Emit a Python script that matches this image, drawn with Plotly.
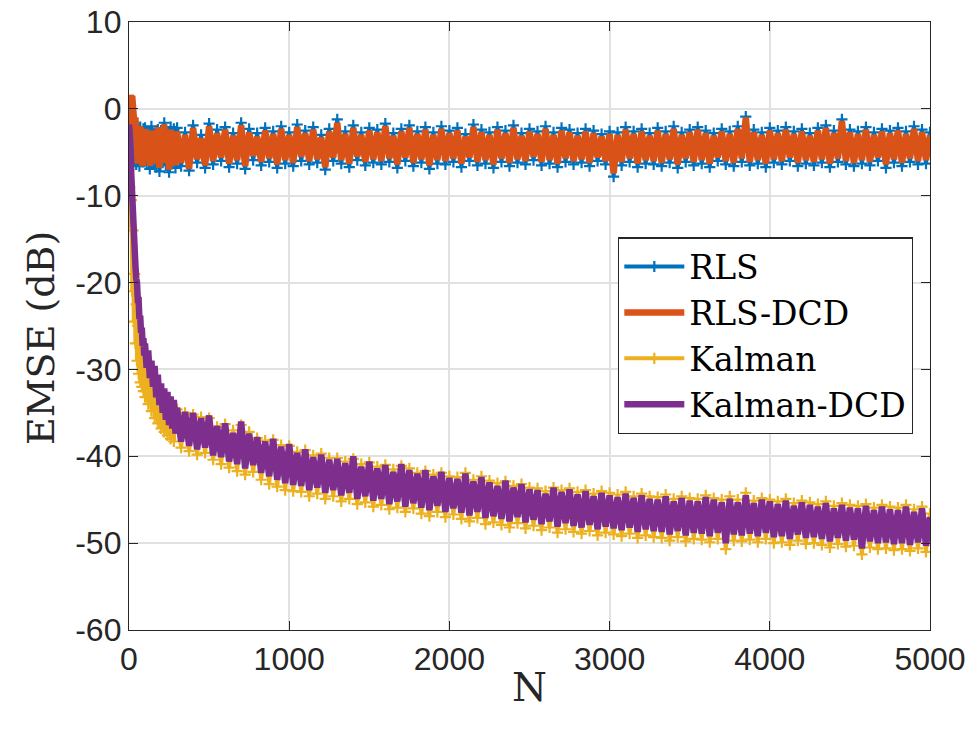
import plotly.graph_objects as go

# sample index N (non-uniform sampling of the 5000-sample curves)
n_early = list(range(0, 100, 5))
n_mid = list(range(100, 300, 10))
n_late = list(range(300, 5001, 25))
N = n_early + n_mid + n_late

# ---------------- RLS (blue) ----------------
rls_early = [-2.0,-5.5,-1.8,-5.8,-2.5,-6.2,-2.0,-5.6,-2.8,-6.4,-2.2,-5.9,-2.6,-6.6,-2.1,-5.7,-2.9,-6.1,-2.3,-6.0]
rls_mid = [-2.2,-6.3,-2.6,-6.9,-2.0,-6.0,-2.8,-6.7,-2.4,-7.2,-2.5,-6.2,-1.6,-6.5,-2.7,-7.3,-2.1,-6.3,-2.3,-6.8]
rls_late = [
    -2.2,-6.6,-2.7,-7.1,-1.9,-6.2,-3.0,-6.8,-1.7,-6.4,
    -2.4,-6.0,-2.1,-6.7,-2.8,-6.3,-1.6,-6.9,-2.3,-5.9,
    -2.8,-6.5,-2.2,-6.1,-2.6,-6.8,-2.0,-6.3,-2.7,-6.6,
    -1.8,-6.0,-2.5,-6.4,-2.1,-6.2,-3.0,-7.0,-2.3,-6.0,
    -1.2,-6.3,-2.6,-6.7,-1.9,-5.9,-2.7,-6.5,-2.2,-6.2,
    -2.4,-6.4,-1.7,-6.1,-2.8,-6.8,-2.3,-6.0,-1.9,-6.6,
    -2.6,-6.2,-2.1,-6.9,-2.7,-6.3,-2.0,-6.4,-2.5,-6.1,
    -2.2,-6.7,-2.9,-6.0,-1.8,-6.5,-2.4,-6.3,-2.7,-6.8,
    -2.1,-6.1,-2.5,-6.6,-1.9,-6.2,-2.8,-6.4,-2.3,-5.9,
    -2.6,-6.5,-2.0,-6.3,-2.7,-6.7,-2.2,-6.1,-2.4,-6.4,
    -2.8,-6.2,-2.3,-6.6,-2.5,-6.0,-2.9,-6.4,-2.6,-7.8,
    -2.7,-6.5,-2.1,-6.1,-2.6,-6.7,-2.3,-6.3,-2.8,-6.4,
    -2.2,-6.6,-2.6,-6.2,-2.0,-6.8,-2.7,-6.1,-2.4,-6.5,
    -2.1,-6.3,-2.5,-6.7,-2.8,-6.0,-2.3,-6.4,-2.6,-6.6,
    -2.0,-6.1,-0.9,-6.5,-2.4,-6.3,-2.7,-6.7,-2.2,-6.2,
    -2.5,-6.4,-2.1,-6.0,-2.6,-6.6,-2.3,-6.3,-2.8,-6.5,
    -2.2,-6.2,-1.9,-6.7,-2.5,-6.1,-1.2,-6.4,-2.4,-6.6,
    -2.6,-6.3,-2.1,-6.5,-2.7,-6.0,-2.3,-6.8,-2.5,-6.2,
    -2.2,-6.6,-2.6,-6.1,-2.0,-6.4,-2.4,-6.3,-2.7,
]

# ---------------- RLS-DCD (orange) ----------------
rlsdcd_early = [-3.0,0.6,1.6,0.9,1.5,-0.8,0.4,-2.2,-1.0,-4.5,-2.0,-6.3,-2.4,-5.8,-2.0,-6.1,-3.0,-6.6,-2.5,-5.6]
rlsdcd_mid = [-2.3,-6.0,-2.8,-6.6,-2.5,-5.8,-3.0,-6.3,-2.1,-6.8,-2.7,-5.9,-1.8,-6.2,-2.9,-7.0,-2.4,-6.0,-2.6,-6.5]
rlsdcd_late = [
    -2.6,-6.2,-3.0,-6.9,-2.2,-5.8,-3.4,-6.5,-2.0,-6.0,
    -2.8,-5.6,-2.4,-6.3,-3.1,-5.9,-1.9,-6.6,-2.7,-5.4,
    -3.2,-6.1,-2.5,-5.7,-2.9,-6.4,-2.3,-5.9,-3.0,-6.2,
    -2.1,-5.5,-2.8,-6.0,-2.4,-5.8,-3.3,-6.7,-2.6,-5.6,
    -1.6,-5.9,-2.9,-6.3,-2.2,-5.5,-3.0,-6.1,-2.5,-5.8,
    -2.7,-6.0,-2.0,-5.7,-3.1,-6.4,-2.6,-5.6,-2.2,-6.2,
    -2.9,-5.8,-2.4,-6.5,-3.0,-5.9,-2.3,-6.0,-2.8,-5.7,
    -2.5,-6.3,-3.2,-5.6,-2.1,-6.1,-2.7,-5.9,-3.0,-6.4,
    -2.4,-5.7,-2.8,-6.2,-2.2,-5.8,-3.1,-6.0,-2.6,-5.5,
    -2.9,-6.1,-2.3,-5.9,-3.0,-6.3,-2.5,-5.7,-2.7,-6.0,
    -3.1,-5.8,-2.6,-6.2,-2.8,-5.6,-3.2,-6.0,-2.9,-7.4,
    -3.0,-6.1,-2.4,-5.7,-2.9,-6.3,-2.6,-5.9,-3.1,-6.0,
    -2.5,-6.2,-2.9,-5.8,-2.3,-6.4,-3.0,-5.7,-2.7,-6.1,
    -2.4,-5.9,-2.8,-6.3,-3.1,-5.6,-2.6,-6.0,-2.9,-6.2,
    -2.3,-5.7,-1.0,-6.1,-2.7,-5.9,-3.0,-6.3,-2.5,-5.8,
    -2.8,-6.0,-2.4,-5.6,-2.9,-6.2,-2.6,-5.9,-3.1,-6.1,
    -2.5,-5.8,-2.2,-6.3,-2.8,-5.7,-1.4,-6.0,-2.7,-6.2,
    -2.9,-5.9,-2.4,-6.1,-3.0,-5.6,-2.6,-6.4,-2.8,-5.8,
    -2.5,-6.2,-2.9,-5.7,-2.3,-6.0,-2.7,-5.9,-3.0,
]

# ---------------- Kalman (yellow) ----------------
kal_early = [-7.0,-9.0,-13.5,-10.5,-21.0,-14.0,-24.5,-19.0,-27.0,-22.5,-29.0,-25.0,-30.5,-27.0,-31.5,-28.0,-32.0,-29.0,-32.5,-29.5]
kal_mid = [-33.2,-30.2,-34.0,-31.0,-34.8,-31.8,-35.6,-32.4,-36.2,-33.0,-36.8,-33.6,-37.2,-34.0,-37.6,-34.2,-38.0,-34.6,-38.3,-34.8]
kal_late = [
    -34.6,-39.0,-35.0,-39.4,-35.2,-39.8,-35.5,-39.6,-35.6,-40.4,
    -36.6,-40.9,-36.3,-41.3,-37.0,-41.7,-36.4,-42.1,-37.2,-41.8,
    -37.9,-42.7,-38.2,-43.2,-38.1,-43.5,-38.7,-43.9,-38.8,-44.0,
    -39.5,-44.1,-39.3,-44.6,-39.9,-44.3,-39.7,-44.9,-40.2,-44.6,
    -40.2,-45.2,-40.6,-44.9,-40.3,-45.5,-40.9,-45.3,-40.7,-45.8,
    -41.2,-45.6,-41.0,-46.1,-41.5,-45.9,-41.1,-46.4,-41.4,-46.0,
    -41.9,-46.6,-41.7,-46.9,-42.1,-46.4,-41.9,-47.0,-42.3,-46.7,
    -42.4,-47.2,-41.9,-47.5,-42.7,-47.1,-42.3,-47.8,-42.8,-47.6,
    -43.1,-47.9,-42.9,-48.2,-43.4,-47.7,-43.2,-48.3,-43.6,-48.0,
    -43.7,-48.5,-44.0,-48.2,-43.6,-48.8,-43.9,-48.4,-43.7,-48.7,
    -44.1,-48.9,-43.9,-48.6,-44.3,-49.1,-44.0,-48.8,-44.2,-49.0,
    -44.4,-49.2,-44.1,-48.9,-44.6,-49.4,-44.3,-49.1,-44.6,-49.3,
    -44.7,-49.4,-44.4,-49.7,-44.9,-49.3,-44.6,-49.8,-44.8,-49.5,
    -44.9,-49.6,-44.5,-49.9,-44.8,-49.5,-45.0,-50.7,-44.6,-49.7,
    -45.0,-49.8,-44.2,-49.6,-45.1,-49.9,-44.8,-49.5,-45.0,-50.0,
    -45.2,-49.9,-44.9,-50.2,-45.4,-49.7,-45.1,-50.1,-45.3,-50.0,
    -45.5,-50.2,-45.2,-50.5,-45.7,-50.1,-45.4,-50.4,-45.6,-50.3,
    -45.7,-51.3,-45.5,-50.5,-45.9,-50.7,-45.6,-50.6,-45.8,-50.8,
    -45.9,-50.7,-45.6,-50.9,-46.1,-50.6,-45.8,-51.0,-46.6,
]

# ---------------- Kalman-DCD (purple) ----------------
kaldcd_early = [-1.8,-4.5,-7.0,-9.0,-10.5,-13.0,-15.0,-16.5,-18.0,-19.5,-20.0,-22.0,-22.0,-24.2,-23.8,-25.8,-25.2,-27.3,-26.4,-28.4]
kaldcd_mid = [-27.0,-29.8,-27.8,-31.0,-29.0,-32.0,-29.6,-33.2,-30.6,-34.1,-31.6,-35.0,-32.2,-35.8,-32.6,-36.4,-33.1,-36.8,-33.5,-37.4]
kaldcd_late = [
    -34.4,-38.3,-34.9,-38.8,-35.0,-39.2,-35.6,-39.0,-35.3,-39.9,
    -36.5,-40.1,-36.2,-40.6,-37.3,-40.9,-36.0,-41.4,-37.4,-41.0,
    -37.8,-41.9,-38.3,-42.3,-38.0,-42.7,-38.9,-43.1,-38.6,-43.3,
    -39.6,-43.4,-39.2,-43.9,-40.1,-43.6,-39.8,-44.2,-40.4,-43.9,
    -40.3,-44.5,-40.8,-44.2,-40.0,-44.9,-41.2,-44.6,-40.6,-45.1,
    -41.4,-44.9,-41.0,-45.5,-41.8,-45.2,-40.9,-45.8,-41.6,-45.4,
    -42.0,-45.9,-41.6,-46.2,-42.3,-45.7,-41.8,-46.4,-42.5,-46.0,
    -42.6,-46.5,-42.0,-46.8,-42.9,-46.4,-42.4,-47.1,-43.0,-46.9,
    -43.4,-47.2,-42.8,-47.5,-43.6,-47.0,-43.2,-47.6,-43.8,-47.3,
    -43.9,-47.8,-44.3,-47.5,-43.6,-48.1,-44.1,-47.7,-43.8,-48.0,
    -44.4,-48.2,-44.0,-47.9,-44.6,-48.4,-44.2,-48.1,-44.5,-48.3,
    -44.7,-48.5,-44.3,-48.2,-44.8,-48.7,-44.5,-48.4,-44.9,-48.6,
    -45.0,-48.7,-44.6,-49.0,-45.2,-48.6,-44.8,-49.1,-45.1,-48.8,
    -45.2,-48.9,-44.7,-49.2,-45.0,-48.8,-45.3,-50.0,-44.9,-49.0,
    -45.3,-49.1,-44.5,-48.9,-45.4,-49.2,-45.0,-48.8,-45.2,-49.3,
    -45.5,-49.2,-45.1,-49.5,-45.7,-49.0,-45.3,-49.4,-45.6,-49.3,
    -45.8,-49.5,-45.4,-49.8,-46.0,-49.4,-45.6,-49.7,-45.9,-49.6,
    -46.0,-50.6,-45.7,-49.8,-46.2,-50.0,-45.8,-49.9,-46.1,-50.1,
    -46.2,-50.0,-45.8,-50.2,-46.4,-49.9,-46.0,-50.3,-47.0,
]

rls = rls_early + rls_mid + rls_late
rls_dcd = rlsdcd_early + rlsdcd_mid + rlsdcd_late
kalman = kal_early + kal_mid + kal_late
kalman_dcd = kaldcd_early + kaldcd_mid + kaldcd_late

names = ["RLS", "RLS-DCD", "Kalman", "Kalman-DCD"]
colors = ["#0072BD", "#D95319", "#EDB120", "#7E2F8E"]
x_ticks = [0, 1000, 2000, 3000, 4000, 5000]
y_ticks = [-60, -50, -40, -30, -20, -10, 0, 10]

SERIF = "DejaVu Serif, Liberation Serif, serif"
SANS = "Liberation Sans, Arial, sans-serif"
INK = "#262626"

fig = go.Figure()
series = [rls, rls_dcd, kalman, kalman_dcd]
for i, (nm, ys, c) in enumerate(zip(names, series, colors)):
    if i in (0, 2):
        fig.add_trace(go.Scatter(
            x=N, y=ys, name=nm, mode="lines+markers",
            line=dict(color=c, width=4),
            marker=dict(symbol="cross-thin", size=8, line=dict(width=2.2, color=c), color=c),
        ))
    else:
        fig.add_trace(go.Scatter(
            x=N, y=ys, name=nm, mode="lines",
            line=dict(color=c, width=6.5),
        ))

axis_common = dict(
    showline=True, linecolor=INK, linewidth=1.3, mirror="allticks",
    ticks="inside", ticklen=9, tickwidth=1.3, tickcolor=INK,
    showgrid=True, gridcolor="#e1e1e1", gridwidth=1.5, zeroline=False,
    automargin=False, ticklabeloverflow="allow",
    tickfont=dict(family=SANS, size=32, color=INK),
)

fig.update_layout(
    width=973, height=729,
    margin=dict(l=129, r=43, t=22, b=99),
    paper_bgcolor="white", plot_bgcolor="white",
    showlegend=True,
    legend=dict(
        x=0.6105, y=0.646, xanchor="left", yanchor="top",
        bgcolor="white", bordercolor=INK, borderwidth=1.3,
        font=dict(family=SERIF, size=33, color="black"),
        itemwidth=60, tracegroupgap=0,
    ),
    annotations=[
        dict(text="N", xref="paper", yref="paper", x=0.5, y=-0.093,
             xanchor="center", yanchor="middle", showarrow=False,
             font=dict(family=SERIF, size=40, color=INK)),
        dict(text="EMSE (dB)", xref="paper", yref="paper", x=-0.11, y=0.48,
             xanchor="center", yanchor="middle", textangle=-90, showarrow=False,
             font=dict(family=SERIF, size=38, color=INK)),
    ],
)
fig.update_xaxes(range=[0, 5000], tickvals=x_ticks, ticktext=[str(v) for v in x_ticks], **axis_common)
fig.update_yaxes(range=[-60, 10], tickvals=y_ticks, ticktext=[str(v) for v in y_ticks], **axis_common)

# remove the default 8px page margin so the 973x729 figure fills the window exactly
fig.write_html("out.html", config={"displayModeBar": False},
               post_script="document.body.style.margin='0px';")
